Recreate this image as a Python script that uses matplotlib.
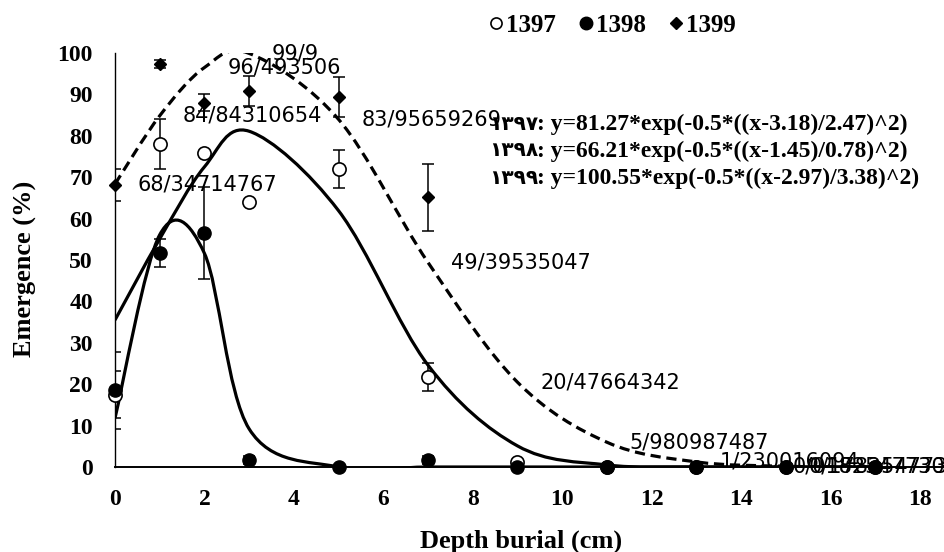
import matplotlib
matplotlib.use('Agg')
import matplotlib.pyplot as plt
from matplotlib.path import Path
from matplotlib.patches import PathPatch
from matplotlib.lines import Line2D

# ---------------- data ----------------
depth = [0, 1, 2, 3, 5, 7, 9, 11, 13, 15, 17]

em_1397 = [17.5, 78.0, 75.8, 64.0, 72.0, 21.8, 1.2, 0.0, 0.0, 0.0, 0.0]
err_1397 = [5.7, 6.1, 0.0, 0.0, 4.6, 3.4, 0.0, 0.0, 0.0, 0.0, 0.0]

em_1398 = [18.5, 51.7, 56.5, 1.7, 0.0, 1.7, 0.0, 0.0, 0.0, 0.0, 0.0]
err_1398 = [9.3, 3.4, 11.2, 1.0, 0.0, 1.0, 0.0, 0.0, 0.0, 0.0, 0.0]

em_1399 = [68.1, 97.3, 88.0, 90.8, 89.4, 65.2, 0.0, 0.0, 0.0, 0.0, 0.0]
err_1399 = [3.8, 1.0, 2.1, 3.7, 4.8, 8.1, 0.0, 0.0, 0.0, 0.0, 0.0]

fit_1397 = [35.5, 55.1, 72.5, 81.1, 61.9, 24.6, 5.1, 0.5, 0.0, 0.0, 0.0]
fit_1398 = [11.8, 56.1, 51.6, 9.2, 0.0, 0.0, 0.0, 0.0, 0.0, 0.0, 0.0]
fit_1399 = [68.35, 84.84, 96.49, 99.9, 83.96, 49.40, 20.48, 5.98, 1.23, 0.18, 0.02]
fit_1399_labels = ['68/34714767', '84/84310654', '96/493506', '99/9',
                   '83/95659269', '49/39535047', '20/47664342', '5/980987487',
                   '1/230016094', '0/178254773', '0/0182547730']

series_names = ['1397', '1398', '1399']
eq_years = ['\u06f1\u06f3\u06f9\u06f7', '\u06f1\u06f3\u06f9\u06f8', '\u06f1\u06f3\u06f9\u06f9']
eq_bodies = [': y=81.27*exp(-0.5*((x-3.18)/2.47)^2)',
             ': y=66.21*exp(-0.5*((x-1.45)/0.78)^2)',
             ': y=100.55*exp(-0.5*((x-2.97)/3.38)^2)']

xticks = list(range(0, 19, 2))
yticks = list(range(0, 101, 10))

# ---------------- figure ----------------
SERIF = ['Liberation Serif', 'DejaVu Serif']
fig = plt.figure(figsize=(9.45, 5.52), dpi=100)
ax = fig.add_axes([115 / 945, 85 / 552, 830 / 945, 414 / 552])
ax.set_xlim(0, 18.56)
ax.set_ylim(0, 100)

for s in ['top', 'right']:
    ax.spines[s].set_visible(False)
ax.spines['left'].set_linewidth(1.0)
ax.spines['bottom'].set_linewidth(1.4)

ax.set_xticks(xticks)
ax.set_yticks(yticks)
ax.tick_params(length=0, pad=16)
for lab in ax.get_xticklabels() + ax.get_yticklabels():
    lab.set_fontfamily(SERIF)
    lab.set_fontweight('bold')
    lab.set_fontsize(17)


def smooth_path(xs, ys):
    pts = list(zip(xs, ys))
    n = len(pts)
    verts = [pts[0]]
    codes = [Path.MOVETO]
    for i in range(n - 1):
        p0 = pts[max(i - 1, 0)]
        p1 = pts[i]
        p2 = pts[i + 1]
        p3 = pts[min(i + 2, n - 1)]
        c1 = (p1[0] + (p2[0] - p0[0]) / 6.0, p1[1] + (p2[1] - p0[1]) / 6.0)
        c2 = (p2[0] - (p3[0] - p1[0]) / 6.0, p2[1] - (p3[1] - p1[1]) / 6.0)
        verts += [c1, c2, p2]
        codes += [Path.CURVE4] * 3
    return Path(verts, codes)


# fitted curves
ax.add_patch(PathPatch(smooth_path(depth, fit_1397), fill=False, edgecolor='black',
                       lw=2.3, zorder=3))
ax.add_patch(PathPatch(smooth_path(depth, fit_1398), fill=False, edgecolor='black',
                       lw=2.3, zorder=3))
ax.add_patch(PathPatch(smooth_path(depth, fit_1399), fill=False, edgecolor='black',
                       lw=2.3, linestyle=(0, (3.2, 1.8)), zorder=3))

# error bars
for vals, errs in [(em_1397, err_1397), (em_1398, err_1398), (em_1399, err_1399)]:
    ax.errorbar(depth, vals, yerr=errs, fmt='none', ecolor='black',
                elinewidth=1.1, capsize=4, capthick=1.1, zorder=4)

# markers
ax.plot(depth, em_1397, linestyle='none', marker='o', ms=9.5, mfc='white',
        mec='black', mew=1.2, clip_on=False, zorder=5)
ax.plot(depth, em_1398, linestyle='none', marker='o', ms=9.5, mfc='black',
        mec='black', clip_on=False, zorder=5)
ax.plot(depth, em_1399, linestyle='none', marker='D', ms=6.6, mfc='black',
        mec='black', clip_on=False, zorder=5)

# data labels of the 1399 fitted curve
for x, y, s in zip(depth, fit_1399, fit_1399_labels):
    if x + 3.3 > 18.56:
        ax.annotate(s, (1.0, y), xycoords=ax.get_yaxis_transform(),
                    ha='right', va='center', fontsize=15,
                    family='DejaVu Sans', color='black', zorder=6)
    else:
        ax.annotate(s, (x, y), xytext=(16.5, 0), textcoords='offset points',
                    ha='left', va='center', fontsize=15,
                    family='DejaVu Sans', color='black', zorder=6)

# axis labels
ax.set_xlabel('Depth burial (cm)', fontsize=19, fontweight='bold', family=SERIF)
ax.xaxis.set_label_coords((521 - 115) / 830, (467 - 541) / 414)
ax.xaxis.label.set_va('center')
ax.set_ylabel('Emergence (%)', fontsize=19, fontweight='bold', family=SERIF)
ax.yaxis.set_label_coords((25 - 115) / 830, (467 - 269) / 414)
ax.yaxis.label.set_va('center')

# equations
eq_y = [124, 151, 178]
for yr, body, yp in zip(eq_years, eq_bodies, eq_y):
    fig.text(538 / 945, 1 - yp / 552, yr, ha='right', va='center',
             fontsize=14.5, fontweight='bold', family=['DejaVu Sans'])
    fig.text(537 / 945, 1 - yp / 552, body, ha='left', va='center',
             fontsize=17, fontweight='bold', family=SERIF)

# legend
handles = [
    Line2D([], [], linestyle='none', marker='o', ms=8, mfc='white', mec='black', mew=1.2),
    Line2D([], [], linestyle='none', marker='o', ms=9, mfc='black', mec='black'),
    Line2D([], [], linestyle='none', marker='D', ms=6, mfc='black', mec='black'),
]
leg = fig.legend(handles, series_names, loc='center', bbox_to_anchor=(612 / 945, 1 - 25 / 552),
                 ncol=3, frameon=False, handlelength=0.6, handletextpad=0.1,
                 columnspacing=0.9, prop={'family': SERIF, 'weight': 'bold', 'size': 18})

fig.savefig('out.png', dpi=100)
